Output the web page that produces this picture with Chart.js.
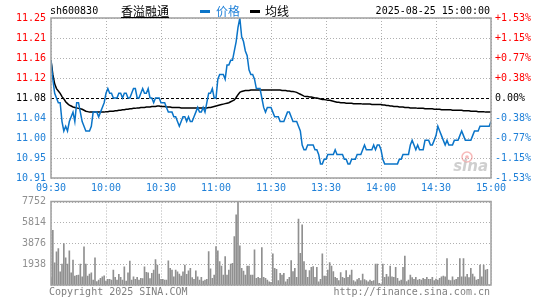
<!DOCTYPE html>
<html>
<head>
<meta charset="utf-8">
<script src="https://cdn.jsdelivr.net/npm/chart.js@4.4.1/dist/chart.umd.min.js"></script>
<style>
body { margin: 0; background: #fff; }
#wrap { position: relative; width: 545px; height: 300px; overflow: hidden; font-family: "DejaVu Sans Mono", monospace; font-size: 10px; }
canvas { position: absolute; left: 0; }
.t { position: absolute; white-space: nowrap; line-height: 12px; }
.cjk { font-family: "Noto Sans CJK SC", sans-serif; font-size: 12px; line-height: 14px; }
.dash { position: absolute; width: 10px; height: 3px; }
</style>
</head>
<body>
<div id="wrap">
  <canvas id="priceChart" width="545" height="200" style="top:0"></canvas>
  <canvas id="volChart" width="545" height="110" style="top:190px"></canvas>

  <div class="t" style="left:50px;top:5px;color:#000">sh600830</div>
  <div class="t cjk" style="left:121px;top:4px;color:#000;text-decoration:underline">香溢融通</div>
  <div class="dash" style="left:200px;top:10px;background:#0a74c8"></div>
  <div class="t cjk" style="left:216px;top:4px;color:#1f80d8">价格</div>
  <div class="dash" style="left:250px;top:10px;background:#000"></div>
  <div class="t cjk" style="left:265px;top:4px;color:#000">均线</div>
  <div class="t" style="right:55px;top:5px;color:#000">2025-08-25 15:00:00</div>

  <div class="t" style="left:49px;top:286px;color:#808080">Copyright 2025 SINA.COM</div>
  <div class="t" style="right:55px;top:286px;color:#808080">http://finance.sina.com.cn</div>
</div>
<script>
// 分时数据 (09:30-11:30, 13:01-15:00, 241 个点)
var timeLabels = ['09:30', '10:00', '10:30', '11:00', '11:30', '13:30', '14:00', '14:30', '15:00'];
var priceTicks = ['10.91', '10.95', '11.00', '11.04', '11.08', '11.12', '11.16', '11.21', '11.25'];
var pctTicks = ['-1.53%', '-1.15%', '-0.77%', '-0.38%', '0.00%', '+0.38%', '+0.77%', '+1.15%', '+1.53%'];
var volTicks = ['', '1938', '3876', '5814', '7752'];
var prevClose = 11.08;
var priceMin = 10.91, priceMax = 11.25, volMax = 7752;

var prices = [
  11.16, 11.12, 11.09, 11.08, 11.07, 11.07, 11.03, 11.01, 11.02, 11.01,
  11.03, 11.04, 11.05, 11.03, 11.07, 11.07, 11.05, 11.03, 11.02, 11.01,
  11.01, 11.01, 11.02, 11.05, 11.05, 11.05, 11.04, 11.05, 11.06, 11.07,
  11.09, 11.10, 11.09, 11.09, 11.08, 11.08, 11.08, 11.09, 11.09, 11.08,
  11.09, 11.09, 11.08, 11.08, 11.09, 11.10, 11.10, 11.08, 11.08, 11.09,
  11.10, 11.09, 11.09, 11.10, 11.08, 11.08, 11.07, 11.08, 11.08, 11.08,
  11.07, 11.07, 11.07, 11.06, 11.05, 11.05, 11.05, 11.04, 11.04, 11.03,
  11.02, 11.03, 11.04, 11.04, 11.03, 11.04, 11.03, 11.03, 11.04, 11.05,
  11.06, 11.05, 11.05, 11.06, 11.05, 11.07, 11.09, 11.09, 11.10, 11.08,
  11.08, 11.12, 11.13, 11.13, 11.13, 11.12, 11.15, 11.15, 11.16, 11.16,
  11.18, 11.20, 11.23, 11.25, 11.21, 11.20, 11.18, 11.17, 11.14, 11.13,
  11.13, 11.12, 11.10, 11.10, 11.10, 11.08, 11.06, 11.05, 11.06, 11.06,
  11.06, 11.05, 11.04, 11.04, 11.04, 11.03, 11.03, 11.03, 11.04, 11.05,
  11.05, 11.04, 11.03, 11.03, 11.03, 11.02, 11.01, 10.98, 10.97, 10.97,
  10.98, 10.98, 10.98, 10.98, 10.97, 10.97, 10.96, 10.94, 10.94, 10.95,
  10.95, 10.96, 10.96, 10.96, 10.96, 10.97, 10.96, 10.96, 10.96, 10.96,
  10.95, 10.95, 10.94, 10.94, 10.95, 10.95, 10.95, 10.96, 10.96, 10.96,
  10.97, 10.98, 10.97, 10.97, 10.97, 10.97, 10.98, 10.97, 10.98, 10.98,
  10.97, 10.95, 10.94, 10.94, 10.94, 10.94, 10.94, 10.94, 10.94, 10.94,
  10.95, 10.95, 10.96, 10.96, 10.96, 10.96, 10.98, 10.99, 10.98, 10.97,
  10.98, 10.97, 10.97, 10.97, 10.99, 10.99, 10.99, 10.98, 10.98, 10.99,
  11.00, 11.02, 11.01, 11.00, 10.99, 10.98, 10.99, 10.98, 10.98, 10.98,
  10.99, 10.99, 10.99, 11.00, 11.01, 11.00, 10.99, 10.99, 10.99, 10.99,
  11.00, 11.01, 11.01, 11.01, 11.02, 11.02, 11.02, 11.02, 11.02, 11.02,
  11.03
];

var avgPrices = [
  11.160, 11.130, 11.110, 11.100, 11.095, 11.090, 11.083, 11.078, 11.072, 11.068,
  11.065, 11.063, 11.061, 11.060, 11.059, 11.058, 11.057, 11.056, 11.054, 11.052,
  11.051, 11.050, 11.050, 11.050, 11.050, 11.050, 11.050, 11.050, 11.050, 11.050,
  11.051, 11.051, 11.052, 11.052, 11.052, 11.053, 11.053, 11.054, 11.054, 11.055,
  11.055, 11.056, 11.056, 11.057, 11.057, 11.058, 11.058, 11.059, 11.059, 11.060,
  11.060, 11.060, 11.061, 11.061, 11.061, 11.062, 11.062, 11.062, 11.063, 11.063,
  11.062, 11.062, 11.062, 11.061, 11.061, 11.061, 11.060, 11.060, 11.060, 11.060,
  11.060, 11.059, 11.059, 11.059, 11.059, 11.059, 11.059, 11.059, 11.059, 11.059,
  11.059, 11.059, 11.059, 11.059, 11.059, 11.059, 11.060, 11.060, 11.061, 11.062,
  11.063, 11.064, 11.065, 11.066, 11.067, 11.068, 11.069, 11.070, 11.072, 11.074,
  11.076, 11.081, 11.087, 11.092, 11.094, 11.095, 11.096, 11.096, 11.096, 11.097,
  11.097, 11.097, 11.097, 11.097, 11.097, 11.097, 11.097, 11.097, 11.097, 11.097,
  11.097, 11.097, 11.097, 11.097, 11.097, 11.097, 11.096, 11.096, 11.096, 11.095,
  11.095, 11.094, 11.094, 11.093, 11.092, 11.090, 11.088, 11.086, 11.084, 11.083,
  11.083, 11.082, 11.082, 11.081, 11.080, 11.080, 11.079, 11.078, 11.077, 11.077,
  11.076, 11.075, 11.075, 11.074, 11.073, 11.072, 11.071, 11.071, 11.070, 11.070,
  11.070, 11.069, 11.069, 11.069, 11.069, 11.068, 11.068, 11.068, 11.068, 11.068,
  11.067, 11.067, 11.067, 11.067, 11.067, 11.066, 11.066, 11.066, 11.066, 11.066,
  11.066, 11.065, 11.065, 11.064, 11.064, 11.063, 11.063, 11.062, 11.062, 11.062,
  11.061, 11.061, 11.061, 11.060, 11.060, 11.060, 11.059, 11.059, 11.059, 11.059,
  11.058, 11.058, 11.058, 11.058, 11.057, 11.057, 11.057, 11.057, 11.057, 11.056,
  11.056, 11.056, 11.056, 11.055, 11.055, 11.055, 11.055, 11.055, 11.055, 11.054,
  11.054, 11.054, 11.054, 11.054, 11.054, 11.053, 11.053, 11.053, 11.053, 11.052,
  11.052, 11.052, 11.052, 11.051, 11.051, 11.051, 11.051, 11.050, 11.050, 11.050,
  11.050
];

var volumes = [
  680, 5075, 2060, 3075, 3380, 1230, 1940, 3845, 2520, 1940,
  3170, 1140, 2310, 830, 890, 920, 1940, 770, 3540, 1940,
  830, 1015, 1140, 460, 2520, 310, 460, 615, 770, 860,
  370, 520, 520, 460, 1385, 710, 460, 985, 710, 460,
  1690, 370, 1140, 2215, 460, 770, 520, 710, 460, 615,
  585, 1690, 1170, 1140, 585, 1075, 1385, 2370, 1845, 1015,
  520, 520, 460, 460, 2245, 1540, 1385, 770, 1385, 1230,
  1015, 830, 1230, 1845, 985, 1320, 1540, 680, 520, 1320,
  770, 460, 710, 370, 460, 520, 3100, 1490, 620, 930,
  3566, 3163, 2170, 1767, 930, 2635, 930, 1395, 1953, 2015,
  4500, 6510, 7752, 3630, 1550, 1300, 930, 1767, 1767, 930,
  930, 3255, 620, 715, 620, 3473, 715, 620, 465, 300,
  250, 2883, 1550, 1457, 400, 1085, 930, 1085, 300, 527,
  715, 2263, 1240, 1550, 715, 6110, 2945, 5580, 2170, 1395,
  715, 1333, 1643, 1705, 715, 1643, 300, 527, 2883, 837,
  837, 1395, 2077, 1767, 1240, 715, 620, 400, 1147, 715,
  620, 1333, 715, 930, 1395, 400, 300, 500, 620, 400,
  1023, 500, 400, 300, 450, 350, 400, 1953, 1940, 155,
  90, 1940, 710, 985, 770, 1750, 770, 710, 1630, 615,
  370, 460, 1630, 2675, 310, 460, 920, 680, 520, 710,
  460, 520, 460, 615, 520, 710, 520, 520, 710, 400,
  555, 460, 615, 770, 830, 770, 2460, 460, 400, 770,
  460, 520, 710, 2460, 770, 2460, 770, 985, 680, 1540,
  1015, 770, 460, 520, 1845, 770, 1845, 1385, 1445, 0,
  0
];

var BLUE = '#0a74c8';
var TEXT_BLUE = '#1f80d8';
var RED = '#ff0000';
var monoFont = { family: '"DejaVu Sans Mono", monospace', size: 10 };

function tickColor(i) {
  if (i < 4) return TEXT_BLUE;
  if (i > 4) return RED;
  return '#000';
}

// 网格 + 边框
var frameGrid = {
  id: 'frameGrid',
  beforeDatasetsDraw: function(chart, args, opts) {
    var ctx = chart.ctx, a = chart.chartArea;
    var xs = chart.scales.x, ys = chart.scales.y;
    ctx.save();
    ctx.lineWidth = 1;
    ctx.strokeStyle = '#b0b0b0';
    ctx.setLineDash([1, 2]);
    opts.yValues.forEach(function(v) {
      if (v === opts.refValue) return;
      var py = Math.round(ys.getPixelForValue(v)) + 0.5;
      ctx.beginPath(); ctx.moveTo(a.left, py); ctx.lineTo(a.right, py); ctx.stroke();
    });
    opts.xValues.forEach(function(v) {
      var px = Math.round(xs.getPixelForValue(v)) + 0.5;
      ctx.beginPath(); ctx.moveTo(px, a.top); ctx.lineTo(px, a.bottom); ctx.stroke();
    });
    if (opts.refValue !== undefined) {
      var ry = Math.round(ys.getPixelForValue(opts.refValue)) + 0.5;
      ctx.strokeStyle = '#000';
      ctx.setLineDash([3, 2]);
      ctx.beginPath(); ctx.moveTo(a.left, ry); ctx.lineTo(a.right, ry); ctx.stroke();
    }
    if (opts.logo) {
      ctx.setLineDash([]);
      ctx.globalAlpha = 0.55;
      ctx.strokeStyle = '#f08080';
      ctx.lineWidth = 1.5;
      ctx.beginPath(); ctx.arc(a.right - 24, a.bottom - 21, 5, 0, Math.PI * 2); ctx.stroke();
      ctx.fillStyle = '#f08080';
      ctx.beginPath(); ctx.arc(a.right - 24, a.bottom - 21, 1.8, 0, Math.PI * 2); ctx.fill();
      ctx.fillStyle = '#a8a8a8';
      ctx.font = 'italic bold 15px "DejaVu Sans", sans-serif';
      ctx.textAlign = 'right';
      ctx.textBaseline = 'middle';
      ctx.fillText('sina', a.right - 3, a.bottom - 11);
    }
    ctx.restore();
  },
  afterDatasetsDraw: function(chart) {
    var ctx = chart.ctx, a = chart.chartArea;
    ctx.save();
    ctx.strokeStyle = '#a0a0a0';
    ctx.lineWidth = 1.5;
    ctx.strokeRect(a.left, a.top, a.right - a.left, a.bottom - a.top);
    ctx.restore();
  }
};

var xGridValues = timeLabels.map(function(t, i) { return i * 30; });
var priceGridValues = priceTicks.map(function(t, i) { return priceMin + i * (priceMax - priceMin) / 8; });
var volGridValues = volTicks.map(function(t, i) { return i * volMax / 4; });
var noGrid = { display: false, drawTicks: false };

new Chart(document.getElementById('priceChart'), {
  type: 'line',
  data: {
    datasets: [{
      label: '价格',
      data: prices.map(function(p, i) { return { x: i, y: p }; }),
      borderColor: BLUE,
      borderWidth: 1.5,
      pointRadius: 0,
      tension: 0
    }, {
      label: '均线',
      data: avgPrices.map(function(p, i) { return { x: i, y: p }; }),
      borderColor: '#000',
      borderWidth: 1.5,
      pointRadius: 0,
      tension: 0
    }]
  },
  options: {
    responsive: false,
    animation: false,
    events: [],
    layout: { padding: { top: 18, left: 0, right: 0, bottom: 0 } },
    plugins: {
      legend: { display: false },
      tooltip: { enabled: false },
      frameGrid: { xValues: xGridValues, yValues: priceGridValues, refValue: prevClose, logo: true }
    },
    scales: {
      x: {
        type: 'linear', min: 0, max: 240,
        grid: noGrid, border: { display: false },
        afterBuildTicks: function(s) { s.ticks = xGridValues.map(function(v) { return { value: v }; }); },
        afterFit: function(s) { s.height = 22; },
        ticks: {
          autoSkip: false, maxRotation: 0, padding: 4,
          color: TEXT_BLUE, font: monoFont,
          callback: function(v, i) { return timeLabels[i]; }
        }
      },
      y: {
        position: 'left', min: priceMin, max: priceMax,
        grid: noGrid, border: { display: false },
        afterBuildTicks: function(s) { s.ticks = priceGridValues.map(function(v) { return { value: v }; }); },
        afterFit: function(s) { s.width = 51; },
        ticks: {
          autoSkip: false, padding: 5, font: monoFont,
          color: function(c) { return tickColor(c.index); },
          callback: function(v, i) { return priceTicks[i]; }
        }
      },
      y2: {
        position: 'right', min: priceMin, max: priceMax,
        grid: noGrid, border: { display: false },
        afterBuildTicks: function(s) { s.ticks = priceGridValues.map(function(v) { return { value: v }; }); },
        afterFit: function(s) { s.width = 54; },
        ticks: {
          autoSkip: false, padding: 4, font: monoFont,
          color: function(c) { return tickColor(c.index); },
          callback: function(v, i) { return pctTicks[i]; }
        }
      }
    }
  },
  plugins: [frameGrid]
});

new Chart(document.getElementById('volChart'), {
  type: 'bar',
  data: {
    datasets: [{
      label: '成交量',
      data: volumes.map(function(v, i) { return { x: i, y: v }; }),
      backgroundColor: '#909090',
      barThickness: 1,
      borderWidth: 0
    }]
  },
  options: {
    responsive: false,
    animation: false,
    events: [],
    layout: { padding: { top: 11.5, left: 0, right: 54, bottom: 15 } },
    plugins: {
      legend: { display: false },
      tooltip: { enabled: false },
      frameGrid: { xValues: xGridValues, yValues: volGridValues }
    },
    scales: {
      x: { type: 'linear', min: 0, max: 240, offset: false, display: false },
      y: {
        position: 'left', min: 0, max: volMax,
        grid: noGrid, border: { display: false },
        afterBuildTicks: function(s) { s.ticks = volGridValues.map(function(v) { return { value: v }; }); },
        afterFit: function(s) { s.width = 51; },
        ticks: {
          autoSkip: false, padding: 5, font: monoFont, color: '#909090',
          callback: function(v, i) { return volTicks[i]; }
        }
      }
    }
  },
  plugins: [frameGrid]
});
</script>
</body>
</html>
